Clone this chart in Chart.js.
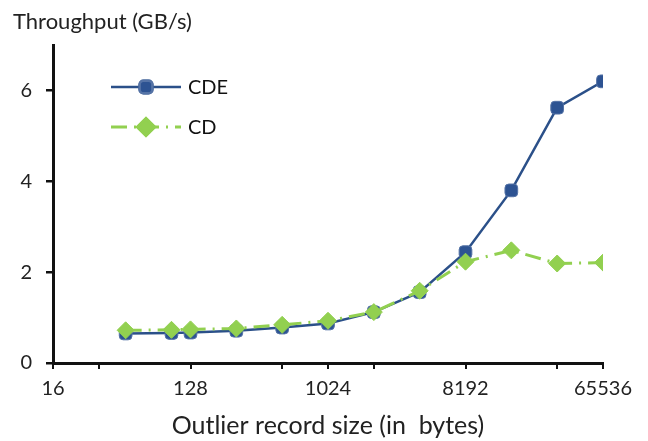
<!DOCTYPE html>
<html>
<head>
<meta charset="utf-8">
<script src="https://cdn.jsdelivr.net/npm/chart.js@4"></script>
<style>
  html, body { margin: 0; padding: 0; background: #fff; }
  #chart { display: block; }
</style>
</head>
<body>
<canvas id="chart" width="648" height="441"></canvas>
<script>
// record sizes in bytes (x axis is log2)
const recordSizes = [48, 96, 128, 256, 512, 1024, 2048, 4096, 8192, 16384, 32768, 65536];
const cdeThroughput = [0.65, 0.66, 0.67, 0.71, 0.78, 0.87, 1.12, 1.56, 2.44, 3.80, 5.62, 6.20];
const cdThroughput = [0.72, 0.73, 0.74, 0.76, 0.84, 0.93, 1.12, 1.59, 2.23, 2.48, 2.19, 2.21];

const xLabelTicks = [16, 128, 1024, 8192, 65536];
const xMinorTicks = [32, 512, 2048, 32768];
const yTicks = [0, 2, 4, 6];

const FONT = 'Lato, "Noto Sans", sans-serif';
const BLUE = '#2B5089';
const GREEN = '#92D050';

const toPoints = vals => vals.map((v, i) => ({ x: Math.log2(recordSizes[i]), y: v }));

// title in the top-left corner + legend inside the plot
const extras = {
    id: 'extras',
    afterDraw(chart) {
        const ctx = chart.ctx;
        ctx.save();
        ctx.fillStyle = '#222';
        ctx.font = '22px ' + FONT;
        ctx.textBaseline = 'alphabetic';
        ctx.fillText('Throughput (GB/s)', 13, 29);

        const items = chart.data.datasets.slice().sort((a, b) => b.order - a.order);
        items.forEach((ds, i) => {
            const y = 87 + i * 40;
            ctx.strokeStyle = ds.borderColor;
            ctx.lineWidth = ds.borderWidth;
            ctx.setLineDash(ds.borderDash || []);
            ctx.beginPath();
            ctx.moveTo(111, y);
            ctx.lineTo(181, y);
            ctx.stroke();
            ctx.setLineDash([]);
            Chart.helpers.drawPoint(ctx, {
                pointStyle: ds.pointStyle,
                radius: ds.pointRadius,
                borderWidth: 1
            }, 146, y);
            ctx.fillStyle = ds.pointBackgroundColor;
            ctx.strokeStyle = ds.pointBorderColor;
            ctx.fill();
            ctx.stroke();
            ctx.fillStyle = '#111';
            ctx.font = '20px ' + FONT;
            ctx.textBaseline = 'middle';
            ctx.fillText(ds.label, 188, y + 1);
        });
        ctx.restore();
    }
};

new Chart(document.getElementById('chart'), {
    type: 'line',
    data: {
        datasets: [{
            label: 'CD',
            data: toPoints(cdThroughput),
            borderColor: GREEN,
            borderWidth: 3,
            borderDash: [16, 7, 2, 7],
            pointStyle: 'rectRot',
            pointRadius: 8.5,
            pointBackgroundColor: GREEN,
            pointBorderColor: GREEN,
            pointBorderWidth: 1,
            order: 0
        }, {
            label: 'CDE',
            data: toPoints(cdeThroughput),
            borderColor: BLUE,
            borderWidth: 2.5,
            pointStyle: 'rectRounded',
            pointRadius: 7.4,
            pointBackgroundColor: '#2D5392',
            pointBorderColor: '#5573A6',
            pointBorderWidth: 1,
            order: 1
        }]
    },
    options: {
        responsive: false,
        animation: false,
        devicePixelRatio: 1,
        layout: { padding: { left: 0, right: 45, top: 45, bottom: 0 } },
        plugins: {
            legend: { display: false },
            tooltip: { enabled: false }
        },
        scales: {
            x: {
                type: 'linear',
                min: Math.log2(xLabelTicks[0]),
                max: Math.log2(xLabelTicks[xLabelTicks.length - 1]),
                afterBuildTicks: scale => {
                    scale.ticks = xLabelTicks.concat(xMinorTicks)
                        .map(v => Math.log2(v)).sort((a, b) => a - b)
                        .map(v => ({ value: v }));
                },
                afterFit: scale => { scale.height = 78; },
                ticks: {
                    autoSkip: false,
                    maxRotation: 0,
                    padding: 8,
                    color: '#222',
                    font: { family: FONT, size: 20 },
                    callback: v => xLabelTicks.includes(Math.round(2 ** v)) ? String(Math.round(2 ** v)) : ''
                },
                grid: { drawOnChartArea: false, drawTicks: true, tickLength: 6, color: '#111', lineWidth: 2 },
                border: { display: true, color: '#111', width: 3 },
                title: {
                    display: true,
                    text: 'Outlier record size (in  bytes)',
                    color: '#222',
                    font: { family: FONT, size: 25 },
                    padding: { top: 4, bottom: 0 }
                }
            },
            y: {
                min: 0,
                max: 7,
                afterBuildTicks: scale => { scale.ticks = yTicks.map(v => ({ value: v })); },
                afterFit: scale => { scale.width = 53; },
                ticks: {
                    padding: 14,
                    color: '#222',
                    font: { family: FONT, size: 20 }
                },
                grid: { drawOnChartArea: false, drawTicks: true, tickLength: 7, color: '#111', lineWidth: 2.5 },
                border: { display: true, color: '#111', width: 3 }
            }
        }
    },
    plugins: [extras]
});
</script>
</body>
</html>
